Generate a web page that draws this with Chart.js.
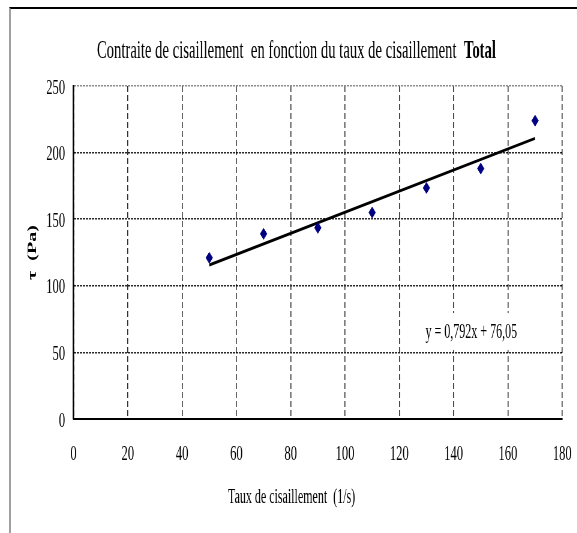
<!DOCTYPE html>
<html>
<head>
<meta charset="UTF-8">
<title>Contraite de cisaillement</title>
<script src="https://cdn.jsdelivr.net/npm/chart.js"></script>
<style>
  html, body { margin: 0; padding: 0; overflow: hidden; background: #fff; }
  body { width: 577px; height: 533px; position: relative; }
  .frame {
    position: absolute; left: 9px; top: 7px; width: 600px; height: 600px;
    border-top: 2px solid #000; border-left: 2px solid #a0a0a0;
  }
  /* the original picture is squeezed horizontally, so draw wide and squeeze */
  .squeeze {
    position: absolute; left: 0; top: 0; width: 962px; height: 533px;
    transform: scaleX(0.6); transform-origin: 0 0;
  }
</style>
</head>
<body>
<div class="frame"></div>
<div class="squeeze"><canvas id="chart" width="962" height="533"></canvas></div>

<script>
const shearRate = [50, 70, 90, 110, 130, 150, 170];
const shearStress = [121, 139, 143.5, 155, 173.5, 188, 224];

const fitSlope = 0.792;
const fitIntercept = 76.05;

const titleMain = 'Contraite de cisaillement  en fonction du taux de cisaillement  ';
const titleBold = 'Total';
const xTitle = 'Taux de cisaillement  (1/s)';
const yTitle = 'τ  (Pa)';
const fitLabel = 'y = 0,792x + 76,05';

const FONT = '"Liberation Serif", "Times New Roman", serif';

const points = shearRate.map((x, i) => ({ x, y: shearStress[i] }));
const fitEnds = [shearRate[0], shearRate[shearRate.length - 1]]
  .map(x => ({ x, y: fitSlope * x + fitIntercept }));

const textPlugin = {
  id: 'texts',
  afterDraw(chart) {
    const { ctx, scales } = chart;
    ctx.save();
    ctx.fillStyle = '#000';

    // title, last word in bold, a bit condensed
    ctx.textBaseline = 'alphabetic';
    ctx.textAlign = 'left';
    ctx.font = '26px ' + FONT;
    const w1 = ctx.measureText(titleMain).width;
    ctx.font = 'bold 26px ' + FONT;
    const w2 = ctx.measureText(titleBold).width;
    const k = 665 / (w1 + w2);
    ctx.save();
    ctx.translate(494 - 665 / 2, 58);
    ctx.scale(k, 1);
    ctx.font = '26px ' + FONT;
    ctx.fillText(titleMain, 0, 0);
    ctx.font = 'bold 26px ' + FONT;
    ctx.fillText(titleBold, w1, 0);
    ctx.restore();

    // x axis title
    ctx.font = '20px ' + FONT;
    ctx.textAlign = 'center';
    ctx.textBaseline = 'middle';
    ctx.fillText(xTitle, 486, 498);

    // trendline equation on a white box
    const lx = scales.x.getPixelForValue(146.5);
    const ly = scales.y.getPixelForValue(64.5);
    ctx.fillStyle = '#fff';
    ctx.fillRect(lx - 86, ly - 20, 172, 37);
    ctx.fillStyle = '#000';
    ctx.font = '20px ' + FONT;
    ctx.fillText(fitLabel, lx, ly);
    ctx.restore();
  }
};

new Chart(document.getElementById('chart'), {
  type: 'scatter',
  data: {
    datasets: [
      {
        data: points,
        pointStyle: 'rectRot',
        pointRadius: 5.5,
        backgroundColor: '#000080',
        borderColor: '#000080',
        borderWidth: 1
      },
      {
        type: 'line',
        data: fitEnds,
        borderColor: '#000',
        borderWidth: 3,
        pointRadius: 0,
        fill: false
      }
    ]
  },
  options: {
    responsive: false,
    devicePixelRatio: 1,
    animation: false,
    events: [],
    layout: { padding: { top: 86, right: 25, bottom: 0, left: 0 } },
    plugins: {
      legend: { display: false },
      tooltip: { enabled: false },
      title: { display: false }
    },
    scales: {
      x: {
        type: 'linear',
        min: 0,
        max: 180,
        ticks: {
          stepSize: 20,
          padding: 0,
          color: '#000',
          font: { family: FONT, size: 21 }
        },
        grid: {
          color: '#333',
          lineWidth: 1.6,
          drawTicks: true,
          tickLength: 23,
          tickColor: 'rgba(0,0,0,0)'
        },
        border: { display: true, color: '#000', width: 2, dash: [6, 3] },
        afterFit(scale) { scale.height = 114; }
      },
      y: {
        min: 0,
        max: 250,
        ticks: {
          stepSize: 50,
          padding: 14,
          labelOffset: 2,
          color: '#000',
          font: { family: FONT, size: 21 }
        },
        grid: {
          color: c => (c.tick && c.tick.value === 250 ? '#777' : '#000'),
          lineWidth: 1.5,
          drawTicks: false
        },
        border: { display: true, color: '#000', width: 2.5, dash: [3, 2] },
        title: {
          display: true,
          text: yTitle,
          color: '#000',
          font: { family: FONT, size: 20, weight: 'bold' },
          padding: { top: 43, bottom: 0 }
        },
        afterFit(scale) { scale.width = 122.5; }
      }
    }
  },
  plugins: [textPlugin]
});
</script>
</body>
</html>
